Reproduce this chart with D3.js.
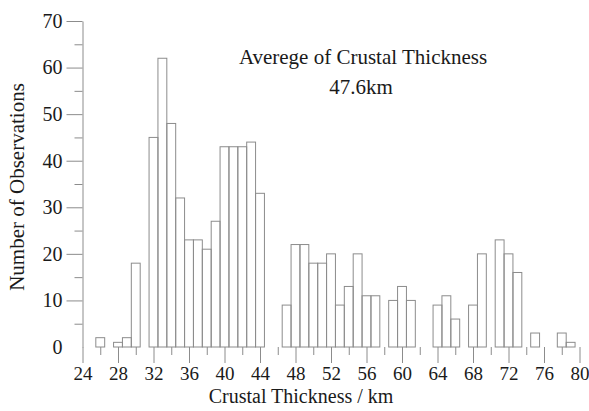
<!DOCTYPE html>
<html>
<head>
<meta charset="utf-8">
<script src="https://cdn.jsdelivr.net/npm/d3@7"></script>
<style>
  body { margin: 0; background: #fff; }
  text { font-family: "Liberation Serif", "Times New Roman", serif; fill: #1a1a1a; }
</style>
</head>
<body>
<div id="chart"></div>
<script>
// chart size
var width = 589
var height = 411

// histogram data: crustal thickness bin (km, 1 km wide, centred) and count
var thickness = [26, 28, 29, 30, 32, 33, 34, 35, 36, 37, 38, 39, 40, 41, 42, 43, 44,
                 47, 48, 49, 50, 51, 52, 53, 54, 55, 56, 57, 59, 60, 61,
                 64, 65, 66, 68, 69, 71, 72, 73, 75, 78, 79]
var counts = [2, 1, 2, 18, 45, 62, 48, 32, 23, 23, 21, 27, 43, 43, 43, 44, 33,
              9, 22, 22, 18, 18, 20, 9, 13, 20, 11, 11, 10, 13, 10,
              9, 11, 6, 9, 20, 23, 20, 16, 3, 3, 1]

// axis ticks
var xMajor = [24, 28, 32, 36, 40, 44, 48, 52, 56, 60, 64, 68, 72, 76, 80]
var xMinor = [26, 30, 34, 38, 42, 46, 50, 54, 58, 62, 66, 70, 74, 78]
var yMajor = [0, 10, 20, 30, 40, 50, 60, 70]
var yMinor = [5, 15, 25, 35, 45, 55, 65]

var bins = thickness.map(function(t, i) { return { t: t, n: counts[i] } })

var lineColor = '#8c8c8c'
var serif = '"Liberation Serif", "Times New Roman", serif'

var svg = d3.select('#chart')
  .append('svg')
    .attr('width', width)
    .attr('height', height)

var x = d3.scaleLinear().domain([24, 80]).range([82.5, 579.5])
var y = d3.scaleLinear().domain([0, 70]).range([347, 21])

// bars (outlines only)
svg.append('g')
  .selectAll('rect')
  .data(bins)
  .enter()
  .append('rect')
    .attr('x', function(d) { return x(d.t - 0.5) })
    .attr('y', function(d) { return y(d.n) })
    .attr('width', function(d) { return x(d.t + 0.5) - x(d.t - 0.5) })
    .attr('height', function(d) { return y(0) - y(d.n) })
    .attr('fill', 'none')
    .attr('stroke', lineColor)
    .attr('stroke-width', 1)

// y axis
var gy = svg.append('g')
  .attr('transform', 'translate(82.5,0)')
  .call(d3.axisLeft(y).tickValues(yMajor).tickSize(16).tickSizeOuter(0).tickPadding(4))
gy.attr('font-family', serif)
gy.select('.domain').attr('stroke', lineColor)
gy.selectAll('.tick line').attr('stroke', lineColor)
  .filter(function(d) { return d === 0 }).remove()
gy.selectAll('.tick text')
  .style('font-family', serif)
  .style('font-size', '20px')

svg.append('g')
  .attr('transform', 'translate(82.5,0)')
  .call(d3.axisLeft(y).tickValues(yMinor).tickSize(8).tickFormat(''))
  .call(function(g) { g.select('.domain').remove() })
  .selectAll('line').attr('stroke', lineColor)

// x axis (ticks only, no base line)
var gx = svg.append('g')
  .attr('transform', 'translate(0,347)')
  .call(d3.axisBottom(x).tickValues(xMajor).tickSize(16).tickPadding(4))
gx.attr('font-family', serif)
gx.select('.domain').remove()
gx.selectAll('.tick line').attr('stroke', lineColor)
gx.selectAll('.tick text')
  .style('font-family', serif)
  .style('font-size', '19px')

svg.append('g')
  .attr('transform', 'translate(0,347)')
  .call(d3.axisBottom(x).tickValues(xMinor).tickSize(8).tickFormat(''))
  .call(function(g) { g.select('.domain').remove() })
  .selectAll('line').attr('stroke', lineColor)

// axis titles
svg.append('text')
  .attr('x', 301)
  .attr('y', 403)
  .style('text-anchor', 'middle')
  .style('font-size', '20px')
  .text('Crustal Thickness / km')

svg.append('text')
  .attr('transform', 'translate(24,187) rotate(-90)')
  .style('text-anchor', 'middle')
  .style('font-size', '21px')
  .text('Number of Observations')

// annotation
svg.append('text')
  .attr('x', 363)
  .attr('y', 64)
  .style('text-anchor', 'middle')
  .style('font-size', '21px')
  .text('Averege of Crustal Thickness')

svg.append('text')
  .attr('x', 361)
  .attr('y', 94)
  .style('text-anchor', 'middle')
  .style('font-size', '21px')
  .text('47.6km')
</script>
</body>
</html>
